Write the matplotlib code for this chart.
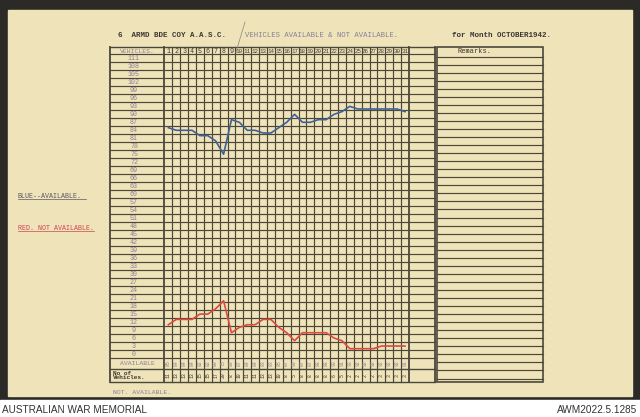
import matplotlib.pyplot as plt
from matplotlib.patches import Rectangle
from matplotlib.transforms import blended_transform_factory as blend

# values (vehicles per day, October 1942)
days = list(range(1, 32))
available = [85, 84, 84, 84, 82, 82, 80, 75, 88, 87, 84, 84, 83, 83, 85, 87,
             90, 87, 87, 88, 88, 90, 91, 93, 92, 92, 92, 92, 92, 92, 91]
not_available = [11, 13, 13, 13, 15, 15, 17, 20, 8, 10, 11, 11, 13, 13, 10, 8,
                 5, 8, 8, 8, 8, 6, 5, 2, 2, 2, 2, 3, 3, 3, 3]
scale_labels = list(range(111, -1, -3))

W, H = 640, 417
paper = '#efe3b9'
ink = '#3a3731'
faded = '#8a7f95'
gridc = '#4c473b'
mono = 'Liberation Mono'

# table geometry (pixels)
tab_left, col0, colw = 110, 164.4, 7.89
grid_right = col0 + 31 * colw
extra_right = 435
rem_left, rem_right = 437, 543
tab_top, row_top, rowh = 47, 54.4, 7.99
grid_bot = row_top + 38 * rowh
avail_bot, veh_bot = 369.3, 381.7

fig = plt.figure(figsize=(6.4, 4.17), dpi=100)
fig.patch.set_facecolor('#2b2a26')
bg = fig.add_axes([0, 0, 1, 1])
bg.set_xlim(0, W)
bg.set_ylim(H, 0)
bg.axis('off')
bg.add_patch(Rectangle((8, 10), 624, 386, color=paper, zorder=0))
bg.add_patch(Rectangle((0, 400), 640, 17, color='white', zorder=0))

# horizontal rules
for k in range(39):
    y = row_top + k * rowh
    bg.plot([tab_left, extra_right], [y, y], color=gridc, lw=0.85)
for y in [tab_top, avail_bot, veh_bot]:
    bg.plot([tab_left, extra_right], [y, y], color=gridc, lw=1.0)
# vertical rules
for k in range(32):
    x = col0 + k * colw
    thick = k in (0, 31)
    bg.plot([x, x], [tab_top, veh_bot], color=gridc, lw=1.3 if thick else 0.85)
for x in [tab_left, extra_right]:
    bg.plot([x, x], [tab_top, veh_bot], color=gridc, lw=1.3)

# remarks box
bg.add_patch(Rectangle((rem_left, tab_top), rem_right - rem_left, veh_bot - tab_top,
                       fill=False, ec=gridc, lw=1.2))
y = 56.5
while y < veh_bot - 2:
    bg.plot([rem_left, rem_right], [y, y], color=gridc, lw=0.85)
    y += 8.05
bg.text(475, 51.5, 'Remarks.', fontsize=5, family=mono, color=ink, ha='center', va='center')

# headings
bg.text(118, 35, '6  ARMD BDE COY A.A.S.C.', fontsize=5.4, family=mono, color=ink,
        va='center', weight='bold')
bg.text(245, 35, 'VEHICLES AVAILABLE & NOT AVAILABLE.', fontsize=5.2, family=mono,
        color=faded, va='center')
bg.text(452, 35, 'for Month OCTOBER1942.', fontsize=5.4, family=mono, color=ink,
        va='center', weight='bold')
bg.plot([245, 236], [22, 52], color='#8a8478', lw=0.5)
bg.text(18, 196, 'BLUE--AVAILABLE.', fontsize=4.8, family=mono, color='#5a5560',
        va='center')
bg.plot([18, 86], [199, 199], color='#5a5560', lw=0.5)
bg.text(18, 228, 'RED. NOT AVAILABLE.', fontsize=4.8, family=mono, color='#cc4450',
        va='center')
bg.plot([18, 94], [231, 231], color='#cc4450', lw=0.5)
bg.text(137, 51, 'VEHICLES.', fontsize=4.6, family=mono, color=faded,
        ha='center', va='center')
bg.text(137, 363.5, 'AVAILABLE', fontsize=4.6, family=mono, color=faded,
        ha='center', va='center')
bg.text(113, 375.5, 'No of\nVehicles.', fontsize=4.4, family=mono, color=ink,
        va='center', linespacing=0.8, weight='bold')
bg.text(113, 392, 'NOT. AVAILABLE.', fontsize=4.6, family=mono, color=faded, va='center')

# footer
bg.text(2, 410, 'AUSTRALIAN WAR MEMORIAL', fontsize=7.2, family='Liberation Sans',
        color='#333333', va='center')
bg.text(637, 410, 'AWM2022.5.1285', fontsize=7.2, family='Liberation Sans',
        color='#333333', va='center', ha='right')

# data axes over the day columns
ax = fig.add_axes([col0 / W, 1 - grid_bot / H, (grid_right - col0) / W,
                   (grid_bot - row_top) / H])
ax.set_xlim(0.5, 31.5)
ax.set_ylim(-1.5, 112.5)
ax.axis('off')
ax.patch.set_alpha(0)
ax.plot(days, available, color='#3f6196', lw=1.2)
ax.plot(days, not_available, color='#dc4a40', lw=1.2)

ty = blend(bg.transData, ax.transData)
for v in scale_labels:
    ax.text(134, v, str(v), transform=ty, fontsize=4.8, family=mono, color=faded,
            ha='center', va='center', clip_on=False)
tx = blend(ax.transData, bg.transData)
for d in days:
    ax.text(d, 51, str(d), transform=tx, fontsize=4.2 if d > 9 else 4.8, family=mono,
            color=ink, ha='center', va='center', clip_on=False)
    ax.text(d, 363.3, str(available[d - 1]), transform=tx, fontsize=3.4, family=mono,
            color=faded, ha='center', va='center', rotation=90, clip_on=False)
    ax.text(d, 375.5, str(not_available[d - 1]), transform=tx, fontsize=3.4, family=mono,
            color=ink, ha='center', va='center', rotation=90, clip_on=False)

fig.savefig('out.png', dpi=100, facecolor=fig.get_facecolor())
